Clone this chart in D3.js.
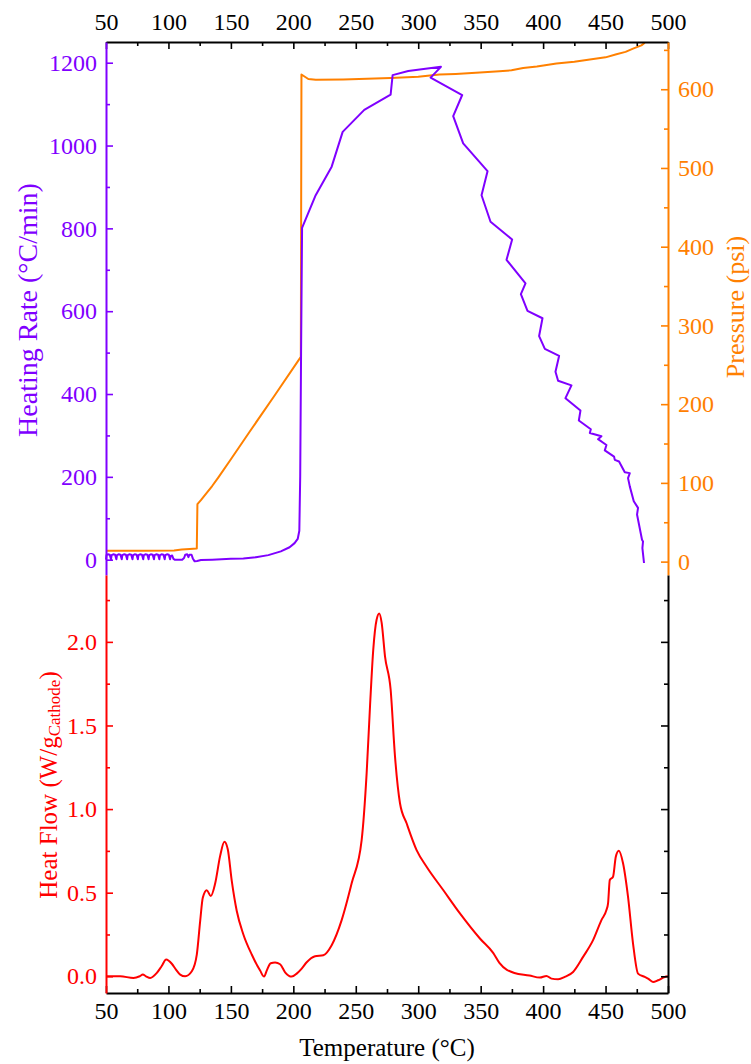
<!DOCTYPE html>
<html>
<head>
<meta charset="utf-8">
<script src="https://cdn.jsdelivr.net/npm/d3@7"></script>
<style>
  html, body { margin: 0; padding: 0; background: #fff; }
  svg { display: block; font-family: "Liberation Serif", "Times New Roman", serif; }
</style>
</head>
<body>
<svg id="chart" width="751" height="1064"></svg>
<script>
// ---- Temperature axis ticks (°C) ----
const tempTicks = [50, 100, 150, 200, 250, 300, 350, 400, 450, 500];
const tempMinorTicks = [75, 125, 175, 225, 275, 325, 375, 425, 475];

// ---- Heating rate axis ticks (°C/min) ----
const rateTicks = [0, 200, 400, 600, 800, 1000, 1200];
const rateMinorTicks = [100, 300, 500, 700, 900, 1100];

// ---- Pressure axis ticks (psi) ----
const pressureTicks = [0, 100, 200, 300, 400, 500, 600];
const pressureMinorTicks = [50, 150, 250, 350, 450, 550, 650];

// ---- Heat flow axis ticks (W/g) ----
const heatTicks = [0, 0.5, 1.0, 1.5, 2.0];
const heatMinorTicks = [0.25, 0.75, 1.25, 1.75, 2.25];

// Heating rate vs temperature: [°C, °C/min]
const heatingRate = [
  [50, 0], [50.4, 11], [51.5, 13], [53, 12], [54, 1],
  [54.5, 11], [55.8, 13], [57.3, 12], [58.3, 1],
  [58.8, 11], [60.1, 13], [61.6, 12], [62.6, 1],
  [63.1, 11], [64.4, 13], [65.9, 12], [66.9, 1],
  [67.4, 11], [68.7, 13], [70.2, 12], [71.2, 1],
  [71.7, 11], [73, 13], [74.5, 12], [75.5, 1],
  [76, 11], [77.3, 13], [78.8, 12], [79.8, 1],
  [80.3, 11], [81.6, 13], [83.1, 12], [84.1, 1],
  [84.6, 11], [85.9, 13], [87.4, 12], [88.4, 1],
  [88.9, 11], [90.2, 13], [91.7, 12], [92.7, 1],
  [93.2, 11], [94.5, 13], [96, 12], [97, 1],
  [97.5, 11], [98.8, 13], [100.3, 12], [101.3, 1],
  [101.8, 9], [103, 10], [104, 2],
  [105, 0], [111, 0], [112.5, 4], [113.5, 12], [115, 13], [116, 6],
  [116.8, 12], [118.5, 12], [119.5, 3], [121, -4], [123, -3], [126, -1],
  [135, 0], [150, 2], [160, 3], [170, 6], [180, 11], [190, 20], [197, 30],
  [201, 40], [203.5, 50], [204.8, 70], [205.5, 200], [206.2, 500], [207, 801],
  [217.9, 880], [230.7, 949], [239.5, 1033], [256.8, 1086], [277.9, 1123],
  [279.5, 1170], [292, 1180], [318.2, 1190], [309.9, 1164], [335.2, 1122],
  [328, 1071], [336, 1005], [355.5, 938], [350.7, 880], [357.9, 816],
  [375.2, 773], [370.7, 724], [385.9, 667], [382.2, 641], [387.5, 601],
  [399.5, 583], [396.8, 540], [401.4, 509], [412.8, 492], [409.9, 454],
  [412, 432], [422.7, 421], [417.9, 390], [429.9, 360], [428.6, 336],
  [438.2, 315], [437.4, 306], [446.7, 298], [444, 291], [450.7, 277],
  [449.4, 264], [456.8, 249], [457.4, 241], [460.8, 237], [465.4, 211],
  [469.4, 209], [468, 197], [469.4, 177], [472.6, 141], [476, 125],
  [475.2, 109], [479.2, 48], [480, 44], [479.5, 28], [480.8, -8]
];

// Pressure vs temperature: [°C, psi]
const pressure = [
  [50, 13.7], [80, 13.8], [104.5, 14], [110.7, 15.4], [117, 16], [122.7, 16.6],
  [123.2, 73], [126, 78], [130, 86], [135, 96], [140, 107], [150, 130],
  [165, 165], [185, 211], [206, 260], [206.5, 618.7], [212, 613], [218, 612],
  [240, 612.5], [278, 614.3], [300, 616], [317, 618.7], [330, 619.5],
  [349.4, 621.2], [365, 623], [374.7, 624], [384, 627], [395, 629],
  [410.7, 632.6], [425, 635], [437.4, 637.7], [450, 640.5], [458.7, 644.4],
  [466, 647.5], [472, 651.6], [478.7, 655.7], [481.4, 659]
];

// Heat flow vs temperature: [°C, W/g cathode]
const heatFlow = [
  [50, 0], [61.4, 0], [72, -0.01], [77, 0], [79.5, 0.01], [82, 0], [85.4, -0.01],
  [90.7, 0.02], [94.5, 0.06], [98.2, 0.10], [102.7, 0.075], [106, 0.04],
  [109.4, 0.01], [113.4, 0.0], [118.7, 0.03], [122.7, 0.13], [125.4, 0.33],
  [127.5, 0.47], [130.7, 0.515], [133.9, 0.48], [137.4, 0.555], [141.4, 0.72],
  [144.8, 0.805], [147.5, 0.76], [150.7, 0.57], [154.7, 0.39], [160, 0.25],
  [166.7, 0.13], [173.4, 0.034], [176.6, -0.002], [178.7, 0.034], [181.9, 0.078],
  [185.4, 0.082], [189.4, 0.072], [193.4, 0.024], [198.7, -0.002], [202.7, 0.016],
  [206.7, 0.046], [210.7, 0.084], [217.4, 0.12], [224, 0.126], [230.7, 0.186],
  [238.7, 0.336], [246.7, 0.556], [254.7, 0.815], [258.7, 1.215], [261.4, 1.615],
  [264, 1.954], [266.7, 2.134], [268.8, 2.17], [270.7, 2.115], [273.4, 1.914],
  [277.9, 1.715], [281.4, 1.315], [285.4, 1.035], [290.7, 0.915], [298.7, 0.755],
  [306.7, 0.655], [320, 0.516], [333.4, 0.376], [349.4, 0.226], [360, 0.14],
  [365, 0.08], [377, 0.02], [389, 0.005], [397.4, -0.008], [402.7, 0.002],
  [406.7, -0.014], [412, -0.018], [417.4, -0.004], [424, 0.026], [432, 0.116],
  [440, 0.216], [446.7, 0.336], [450.7, 0.396], [452, 0.436], [453.4, 0.576],
  [456, 0.595], [458.2, 0.715], [460.6, 0.751], [464, 0.676], [468, 0.475],
  [472, 0.196], [476, 0.016], [481.4, -0.004], [484, -0.014], [488, -0.034],
  [492, -0.024], [497.4, -0.004], [500, 0]
];

// ---- Colours ----
const PURPLE = "#7F00FF";
const ORANGE = "#FF8000";
const RED = "#FF0000";
const BLACK = "#000000";

// ---- Layout ----
const plotLeft = 106, plotRight = 668;
const topY = 42, midY = 575, bottomY = 993;
const tickFont = 24, titleFont = 25;

const svg = d3.select("#chart");

const x = d3.scaleLinear().domain([50, 500]).range([plotLeft, plotRight]);
const yRate = d3.scaleLinear().domain([-37, 1250]).range([midY, topY]);
const yPres = d3.scaleLinear().domain([-17, 660]).range([midY, topY]);
const yHeat = d3.scaleLinear().domain([-0.1, 2.4]).range([bottomY, midY]);

function styleAxis(g, color) {
  g.attr("color", color);
  g.selectAll("path.domain").attr("stroke-width", 2);
  g.selectAll(".tick line").attr("stroke-width", 1.6);
  g.selectAll(".tick text")
    .attr("font-size", tickFont)
    .attr("font-family", "Liberation Serif, Times New Roman, serif");
}

// makeAxis: a function returning a fresh d3 axis generator
function addAxis(makeAxis, values, minor, transform, color, fmt, pad) {
  const main = svg.append("g").attr("transform", transform)
    .call(makeAxis()
      .tickValues(values)
      .tickSizeInner(-7)
      .tickSizeOuter(0)
      .tickPadding(pad)
      .tickFormat(fmt));
  styleAxis(main, color);
  if (minor && minor.length) {
    const m = svg.append("g").attr("transform", transform)
      .call(makeAxis()
        .tickValues(minor)
        .tickSizeInner(-4)
        .tickSizeOuter(0)
        .tickFormat(""));
    styleAxis(m, color);
    m.select("path.domain").remove();
  }
  return main;
}

// ---- Data lines ----
const rateLine = d3.line().x(d => x(d[0])).y(d => yRate(d[1]));
const presLine = d3.line().x(d => x(d[0])).y(d => yPres(d[1]));
const heatLine = d3.line().x(d => x(d[0])).y(d => yHeat(d[1])).curve(d3.curveMonotoneX);

svg.append("path").datum(pressure)
  .attr("d", presLine)
  .attr("fill", "none").attr("stroke", ORANGE).attr("stroke-width", 2)
  .attr("stroke-linejoin", "round");

svg.append("path").datum(heatingRate)
  .attr("d", rateLine)
  .attr("fill", "none").attr("stroke", PURPLE).attr("stroke-width", 2)
  .attr("stroke-linejoin", "round");

svg.append("path").datum(heatFlow)
  .attr("d", heatLine)
  .attr("fill", "none").attr("stroke", RED).attr("stroke-width", 2)
  .attr("stroke-linejoin", "round");

// ---- Axes ----
const fmtInt = d3.format("d");
const fmtOne = d3.format(".1f");

// temperature axes, top and bottom
addAxis(() => d3.axisTop(x), tempTicks, tempMinorTicks, `translate(0,${topY})`, BLACK, fmtInt, 12);
addAxis(() => d3.axisBottom(x), tempTicks, tempMinorTicks, `translate(0,${bottomY})`, BLACK, fmtInt, 9);

// upper panel: heating rate (left) and pressure (right)
addAxis(() => d3.axisLeft(yRate), rateTicks, rateMinorTicks, `translate(${plotLeft},0)`, PURPLE, fmtInt, 9);
addAxis(() => d3.axisRight(yPres), pressureTicks, pressureMinorTicks, `translate(${plotRight},0)`, ORANGE, fmtInt, 10);

// lower panel: heat flow (left, labelled) and mirror axis (right)
addAxis(() => d3.axisLeft(yHeat), heatTicks, heatMinorTicks, `translate(${plotLeft},0)`, RED, fmtOne, 9);
addAxis(() => d3.axisRight(yHeat), heatTicks, heatMinorTicks, `translate(${plotRight},0)`, BLACK, () => "", 9);

// ---- Axis titles ----
svg.append("text")
  .attr("transform", `translate(27,310) rotate(-90)`)
  .attr("text-anchor", "middle")
  .attr("dominant-baseline", "central")
  .attr("font-size", 28)
  .attr("fill", PURPLE)
  .text("Heating Rate (°C/min)");

svg.append("text")
  .attr("transform", `translate(735,307) rotate(-90)`)
  .attr("text-anchor", "middle")
  .attr("dominant-baseline", "central")
  .attr("font-size", 26)
  .attr("fill", ORANGE)
  .text("Pressure (psi)");

const hf = svg.append("text")
  .attr("transform", `translate(48,785) rotate(-90)`)
  .attr("text-anchor", "middle")
  .attr("dominant-baseline", "central")
  .attr("font-size", titleFont)
  .attr("fill", RED);
hf.append("tspan").text("Heat Flow (W/g");
hf.append("tspan").attr("font-size", 17).attr("dy", 6).text("Cathode");
hf.append("tspan").attr("dy", -6).text(")");

svg.append("text")
  .attr("x", (plotLeft + plotRight) / 2)
  .attr("y", 1056)
  .attr("text-anchor", "middle")
  .attr("font-size", titleFont)
  .attr("fill", BLACK)
  .text("Temperature (°C)");
</script>
</body>
</html>
